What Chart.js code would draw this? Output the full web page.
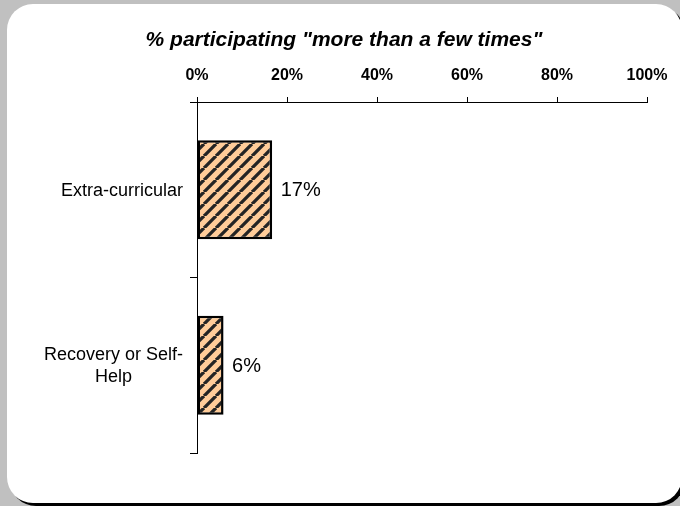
<!DOCTYPE html>
<html>
<head>
<meta charset="utf-8">
<script src="https://cdn.jsdelivr.net/npm/chart.js@4/dist/chart.umd.min.js"></script>
<style>
  html, body { margin: 0; padding: 0; }
  body { width: 680px; height: 506px; background: #c0c0c0; position: relative; overflow: hidden; }
  #panel { position: absolute; left: 7px; top: 4px; width: 675px; height: 499px; background: #fff;
           border-radius: 26px; box-shadow: 3px 3px 0 #000; }
  #c { position: absolute; left: 0; top: 0; }
</style>
</head>
<body>
<div id="panel"></div>
<canvas id="c" width="680" height="506"></canvas>
<script>
const titleText = '% participating "more than a few times"';
const categories = [["Extra-curricular"], ["Recovery or Self-", "Help"]];
const values = [16.7, 5.9];
const xTicks = [0, 20, 40, 60, 80, 100];

const FONT = "'Liberation Sans', Arial, sans-serif";

function makeHatch() {
  const P = 12;
  const c = document.createElement('canvas');
  c.width = P; c.height = P;
  const g = c.getContext('2d');
  g.fillStyle = '#FFCC99';
  g.fillRect(0, 0, P, P);
  g.strokeStyle = '#242424';
  g.lineWidth = 3.3;
  g.beginPath();
  for (let k = -1; k <= 1; k++) {
    g.moveTo(k * P, P);
    g.lineTo(k * P + P, 0);
  }
  g.stroke();
  return g.createPattern(c, 'repeat');
}

const ctx = document.getElementById('c').getContext('2d');

const catLabelPlugin = {
  id: 'catLabels',
  afterDraw(chart) {
    const ys = chart.scales.y;
    const c = chart.ctx;
    c.save();
    c.font = '18px ' + FONT;
    c.fillStyle = '#000';
    c.textBaseline = 'middle';
    c.textAlign = 'center';
    const lineH = 22;
    categories.forEach((lines, i) => {
      const y = ys.getPixelForValue(i);
      const maxW = Math.max(...lines.map(l => c.measureText(l).width));
      const cx = ys.right - 14 - maxW / 2;
      lines.forEach((l, j) => {
        c.fillText(l, cx, y + (j - (lines.length - 1) / 2) * lineH + 1);
      });
    });
    c.restore();
  }
};

const valueLabelPlugin = {
  id: 'valueLabels',
  afterDatasetsDraw(chart) {
    const meta = chart.getDatasetMeta(0);
    const c = chart.ctx;
    c.save();
    c.font = '20px ' + FONT;
    c.fillStyle = '#000';
    c.textBaseline = 'middle';
    c.textAlign = 'left';
    meta.data.forEach((bar, i) => {
      c.fillText(Math.round(values[i]) + '%', bar.x + 8.5, bar.y + 1);
    });
    c.restore();
  }
};

new Chart(ctx, {
  type: 'bar',
  data: {
    labels: categories,
    datasets: [{
      data: values,
      backgroundColor: makeHatch(),
      borderColor: '#000',
      borderWidth: 2.5,
      borderSkipped: false,
      barPercentage: 0.565,
      categoryPercentage: 1.0
    }]
  },
  options: {
    indexAxis: 'y',
    responsive: false,
    animation: false,
    devicePixelRatio: 1,
    layout: { padding: { top: 27.4, left: 41, right: 33, bottom: 53 } },
    plugins: {
      legend: { display: false },
      tooltip: { enabled: false },
      title: {
        display: true,
        text: titleText,
        color: '#000',
        font: { family: FONT, size: 21, weight: 'bold', style: 'italic', lineHeight: 1.2 },
        padding: { top: 0, bottom: 0 }
      }
    },
    scales: {
      x: {
        position: 'top',
        min: 0,
        max: 100,
        afterBuildTicks(scale) { scale.ticks = xTicks.map(v => ({ value: v })); },
        afterFit(scale) { scale.height = 49.4; },
        ticks: {
          callback: v => v + '%',
          color: '#000',
          padding: 12,
          maxRotation: 0,
          font: { family: FONT, size: 16, weight: 'bold', lineHeight: 1.2 }
        },
        grid: { drawOnChartArea: false, tickLength: 5, color: '#000', lineWidth: 1 },
        border: { display: true, color: '#000', width: 1 }
      },
      y: {
        afterFit(scale) { scale.width = 156; },
        ticks: { display: false },
        grid: { offset: true, drawOnChartArea: false, tickLength: 7, color: '#000', lineWidth: 1 },
        border: { display: true, color: '#000', width: 1 }
      }
    }
  },
  plugins: [catLabelPlugin, valueLabelPlugin]
});
</script>
</body>
</html>
